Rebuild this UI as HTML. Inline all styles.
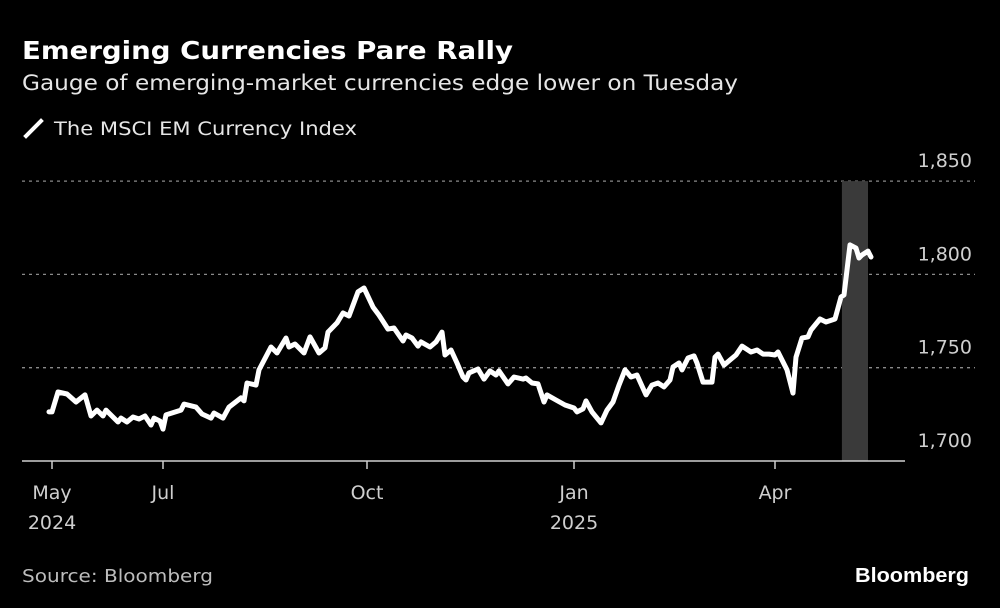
<!DOCTYPE html>
<html><head><meta charset="utf-8">
<style>
html,body{margin:0;padding:0;background:#000;}
svg{display:block;font-family:"DejaVu Sans","Liberation Sans",sans-serif;}
</style></head>
<body>
<svg width="1000" height="608" viewBox="0 0 1000 608">
<rect width="1000" height="608" fill="#000"/>
<text x="22" y="59" fill="#fff" font-size="25" font-weight="bold" textLength="491" lengthAdjust="spacingAndGlyphs">Emerging Currencies Pare Rally</text>
<text x="22" y="90" fill="#e6e6e6" font-size="21" textLength="716" lengthAdjust="spacingAndGlyphs">Gauge of emerging-market currencies edge lower on Tuesday</text>
<g>
<line x1="26" y1="136" x2="41" y2="121" stroke="#fff" stroke-width="4" stroke-linecap="square"/>
<text x="54" y="135" fill="#e6e6e6" font-size="19" textLength="303" lengthAdjust="spacingAndGlyphs">The MSCI EM Currency Index</text>
</g>
<g id="grid"></g>
<g id="band"></g>
<g id="axes"></g>
<path id="series" fill="none" stroke="#fff" stroke-width="5" stroke-linejoin="round" stroke-linecap="round"/>
<text x="22" y="582" fill="#bdbdbd" font-size="18" textLength="191" lengthAdjust="spacingAndGlyphs">Source: Bloomberg</text>
<text x="969" y="582" fill="#fff" font-size="20" font-weight="bold" text-anchor="end" textLength="114" lengthAdjust="spacingAndGlyphs" font-family="Liberation Sans, sans-serif">Bloomberg</text>
</svg>
<script>
const days=[0,1,3,6,9,12,14,16,18,19,23,24,26,28,30,32,34,35,37,38,39,44,45,49,51,54,55,58,60,64,65,66,69,70,74,76,79,80,82,85,87,90,92,93,96,98,100,103,105,108,110,113,115,118,119,121,123,124,127,129,131,132,134,136,138,139,140,143,145,147,149,150,153,155,158,159,161,163,165,166,169,172,175,176,178,179,181,184,186,188,190,192,194,196,199,201,203,205,207,208,210,211,213,215,216,218,221,222,223,225,227,229,231,234,236,238,240,242,243,246,248,249,251,253,254,257,259,262,264,265,266,267,269,270,271,273,274];
const values=[1726.3,1726.3,1737,1735.9,1731.6,1735.4,1724.1,1727.3,1724.1,1727.3,1720.9,1723,1720.9,1723.6,1722.5,1724.1,1719.3,1723,1721.4,1717.1,1724.7,1727.3,1730.5,1728.9,1725.2,1723,1725.7,1723,1728.9,1733.8,1732.2,1741.8,1740.7,1748.8,1761.1,1757.9,1765.9,1761.1,1762.7,1757.9,1766.5,1757.9,1760.6,1769.1,1774,1779.3,1777.7,1790.6,1792.7,1782.5,1778.2,1770.7,1771.3,1764.3,1767.5,1765.9,1761.6,1763.8,1761.1,1763.8,1769.1,1756.8,1759.5,1752.5,1745,1743.4,1747.2,1749.3,1743.9,1748.3,1746.1,1748.3,1741.3,1745,1743.9,1744.5,1741.8,1741.3,1731.6,1735.4,1732.7,1730,1728.4,1726.3,1727.9,1732.2,1726.3,1720.4,1727.3,1731.6,1740.7,1748.8,1745,1746.1,1735.4,1740.7,1741.8,1739.7,1743.4,1750.4,1752.5,1748.8,1755.2,1756.3,1752.5,1742.3,1742.3,1755.7,1757.3,1751.4,1754.1,1756.8,1761.6,1758.4,1759.5,1757.3,1757.3,1756.8,1758.4,1748.8,1736.4,1755.7,1765.9,1766.5,1770.2,1776.1,1774.5,1776.1,1787.9,1789,1802.4,1815.8,1814.1,1808.8,1810.4,1812.5,1809.3];
const yTicks=[1700,1750,1800,1850];
const yTickLabels=["1,700","1,750","1,800","1,850"];
const xTickDays=[1,38,106,175,242];
const xTickLabels=[["May","2024"],["Jul",""],["Oct",""],["Jan","2025"],["Apr",""]];
const bandDays=[264.3,273];

const NS="http://www.w3.org/2000/svg";
const x=d=>49+3*d;
const y=v=>461-(v-1700)*93.3/50;
function mk(tag,attrs,parent,txt){const e=document.createElementNS(NS,tag);for(const k in attrs)e.setAttribute(k,attrs[k]);if(txt!==undefined)e.textContent=txt;parent.appendChild(e);return e;}
const grid=document.getElementById('grid'),axes=document.getElementById('axes'),band=document.getElementById('band');
yTicks.forEach((t,i)=>{
  if(t!==1700){const l=mk('line',{x1:22,x2:975,y1:y(t),y2:y(t),stroke:'#8a8a8a','stroke-width':1.3,'stroke-dasharray':'3,4'},grid);
  
  }
  const tx=mk('text',{x:972,y:y(t)-14,fill:'#cfcfcf','font-size':19,'text-anchor':'end'},axes,yTickLabels[i]);
  
  
});
const r=mk('rect',{x:x(bandDays[0]),y:y(1850),width:x(bandDays[1])-x(bandDays[0]),height:y(1700)-y(1850),fill:'#3a3a3a'},band);


const base=mk('line',{x1:22,x2:905,y1:y(1700),y2:y(1700),stroke:'#cfcfcf','stroke-width':1.5},axes);


xTickDays.forEach((d,i)=>{
  const tk=mk('line',{x1:x(d),x2:x(d),y1:y(1700),y2:y(1700)+8,stroke:'#cfcfcf','stroke-width':1.5},axes);
  
  
  const t1=mk('text',{x:x(d),y:499,fill:'#cfcfcf','font-size':19,'text-anchor':'middle'},axes,xTickLabels[i][0]);
  
  
  if(xTickLabels[i][1]){const t2=mk('text',{x:x(d),y:529,fill:'#cfcfcf','font-size':19,'text-anchor':'middle'},axes,xTickLabels[i][1]);
  
  }
});
document.getElementById('series').setAttribute('d',days.map((d,i)=>(i?'L':'M')+x(d).toFixed(1)+','+y(values[i]).toFixed(1)).join(''));
</script>
</body></html>
